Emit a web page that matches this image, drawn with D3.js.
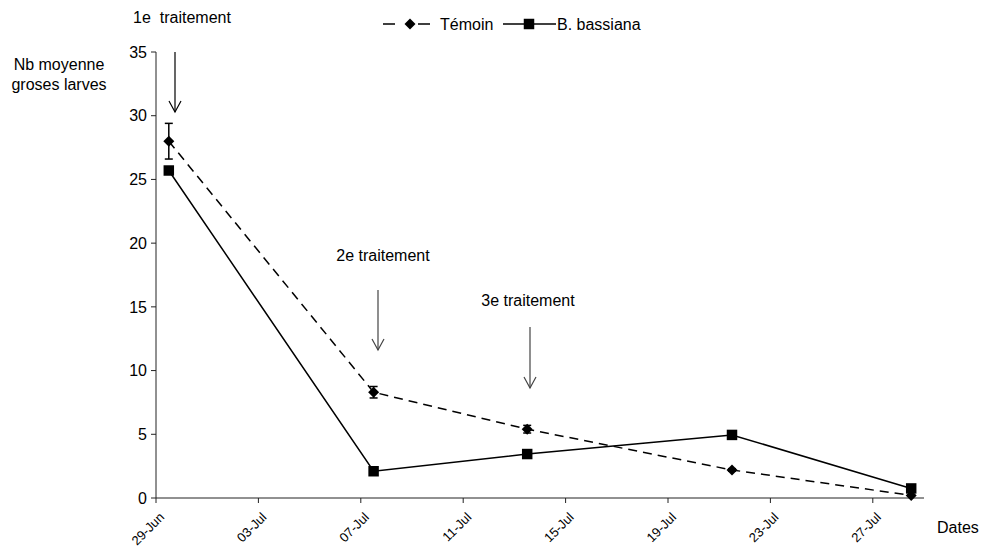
<!DOCTYPE html>
<html>
<head>
<meta charset="utf-8">
<script src="https://cdn.jsdelivr.net/npm/d3@7"></script>
<style>
  html, body { margin: 0; padding: 0; background: #fff; }
  svg { display: block; font-family: "Liberation Sans", Arial, sans-serif; }
</style>
</head>
<body>
<svg id="chart" width="982" height="547"></svg>
<script>
// Sampling dates (each point sits in the middle of its day)
const sampleDates = ["2008-06-29", "2008-07-07", "2008-07-13", "2008-07-21", "2008-07-28"];
// Mean number of large larvae per plant
const temoin      = [28.0, 8.3, 5.4, 2.2, 0.2];
const temoinErr   = [1.4, 0.45, 0.3, 0.1, 0];
const bassiana    = [25.7, 2.1, 3.45, 4.95, 0.75];
// Axis ticks
const xTickDates  = ["2008-06-29", "2008-07-03", "2008-07-07", "2008-07-11",
                     "2008-07-15", "2008-07-19", "2008-07-23", "2008-07-27"];
const yTicks      = [0, 5, 10, 15, 20, 25, 30, 35];
const seriesNames = ["Témoin", "B. bassiana"];
const treatmentLabels = ["1e  traitement", "2e traitement", "3e traitement"];

const parse = d3.utcParse("%Y-%m-%d");
const fmt = d3.utcFormat("%d-%b");
const halfDay = 12 * 3600 * 1000;

const svg = d3.select("#chart");

const x = d3.scaleUtc()
  .domain([parse("2008-06-29"), parse("2008-07-29")])
  .range([156, 924]);
const y = d3.scaleLinear().domain([0, 35]).range([498, 52]);

const mid = d => new Date(parse(d).getTime() + halfDay);

// Axes
const axisColor = "#222";
svg.append("line").attr("x1", x.range()[0]).attr("x2", x.range()[1])
  .attr("y1", y(0)).attr("y2", y(0)).attr("stroke", axisColor).attr("stroke-width", 1);
svg.append("line").attr("x1", x.range()[0]).attr("x2", x.range()[0])
  .attr("y1", y(0)).attr("y2", y(35)).attr("stroke", axisColor).attr("stroke-width", 1);

const yAxis = svg.append("g").selectAll("g").data(yTicks).join("g");
yAxis.append("line")
  .attr("x1", x.range()[0] - 5).attr("x2", x.range()[0])
  .attr("y1", d => y(d)).attr("y2", d => y(d))
  .attr("stroke", axisColor);
yAxis.append("text")
  .attr("x", x.range()[0] - 9).attr("y", d => y(d)).attr("dy", "0.36em")
  .attr("text-anchor", "end").attr("font-size", 16).attr("fill", "#000")
  .text(d => d);

const xAxis = svg.append("g").selectAll("g").data(xTickDates.map(parse)).join("g");
xAxis.append("line")
  .attr("x1", d => x(d)).attr("x2", d => x(d))
  .attr("y1", y(0)).attr("y2", y(0) + 5)
  .attr("stroke", axisColor);
xAxis.append("text")
  .attr("transform", d => `translate(${x(d) + 9},${y(0) + 20}) rotate(-45)`)
  .attr("text-anchor", "end").attr("font-size", 13).attr("fill", "#000")
  .text(d => fmt(d));

// Axis titles
svg.append("text").attr("x", 59).attr("y", 70).attr("text-anchor", "middle")
  .attr("font-size", 16).text("Nb moyenne");
svg.append("text").attr("x", 59).attr("y", 90).attr("text-anchor", "middle")
  .attr("font-size", 16).text("groses larves");
svg.append("text").attr("x", 937).attr("y", 533).attr("font-size", 16).text("Dates");

// Series lines
const pts = (vals) => vals.map((v, i) => [x(mid(sampleDates[i])), y(v)]);
const line = d3.line();

svg.append("path").attr("d", line(pts(temoin)))
  .attr("fill", "none").attr("stroke", "#000").attr("stroke-width", 1.5)
  .attr("stroke-dasharray", "9,6");
svg.append("path").attr("d", line(pts(bassiana)))
  .attr("fill", "none").attr("stroke", "#000").attr("stroke-width", 1.5);

// Error bars on the control series
const eb = svg.append("g").selectAll("g")
  .data(temoin.map((v, i) => ({ v, e: temoinErr[i], d: mid(sampleDates[i]) })).filter(o => o.e > 0))
  .join("g").attr("stroke", "#000").attr("stroke-width", 1.5);
eb.append("line").attr("x1", o => x(o.d)).attr("x2", o => x(o.d))
  .attr("y1", o => y(o.v + o.e)).attr("y2", o => y(o.v - o.e));
eb.append("line").attr("x1", o => x(o.d) - 4).attr("x2", o => x(o.d) + 4)
  .attr("y1", o => y(o.v + o.e)).attr("y2", o => y(o.v + o.e));
eb.append("line").attr("x1", o => x(o.d) - 4).attr("x2", o => x(o.d) + 4)
  .attr("y1", o => y(o.v - o.e)).attr("y2", o => y(o.v - o.e));

// Markers
const diamond = "M0,-5.5L5.5,0L0,5.5L-5.5,0Z";
const square = d3.symbol().type(d3.symbolSquare).size(110);
svg.append("g").selectAll("path").data(pts(temoin)).join("path")
  .attr("transform", p => `translate(${p[0]},${p[1]})`)
  .attr("d", diamond).attr("fill", "#000");
svg.append("g").selectAll("path").data(pts(bassiana)).join("path")
  .attr("transform", p => `translate(${p[0]},${p[1]})`)
  .attr("d", square).attr("fill", "#000");

// Treatment annotations: label and downward arrow
const arrows = [
  { label: treatmentLabels[0], cx: 182, ty: 23, ax: 175, y1: 52, y2: 112, color: "#000" },
  { label: treatmentLabels[1], cx: 383, ty: 261, ax: 378, y1: 290, y2: 350, color: "#444" },
  { label: treatmentLabels[2], cx: 528, ty: 306, ax: 530, y1: 327, y2: 388, color: "#444" }
];
const ann = svg.append("g").selectAll("g").data(arrows).join("g");
ann.append("text").attr("x", a => a.cx).attr("y", a => a.ty)
  .attr("text-anchor", "middle").attr("font-size", 16)
  .style("white-space", "pre").text(a => a.label);
ann.append("line").attr("x1", a => a.ax).attr("x2", a => a.ax)
  .attr("y1", a => a.y1).attr("y2", a => a.y2)
  .attr("stroke", a => a.color).attr("stroke-width", 1.2);
ann.append("path")
  .attr("d", a => `M${a.ax - 6},${a.y2 - 11}L${a.ax},${a.y2}L${a.ax + 6},${a.y2 - 11}`)
  .attr("fill", "none").attr("stroke", a => a.color).attr("stroke-width", 1.2);

// Legend
const lg = svg.append("g");
lg.append("line").attr("x1", 383).attr("x2", 430).attr("y1", 24).attr("y2", 24)
  .attr("stroke", "#000").attr("stroke-width", 1.5).attr("stroke-dasharray", "12,23");
lg.append("path").attr("transform", "translate(410,24)").attr("d", diamond).attr("fill", "#000");
lg.append("text").attr("x", 440).attr("y", 24).attr("dy", "0.36em").attr("font-size", 16).text(seriesNames[0]);
lg.append("line").attr("x1", 503).attr("x2", 556).attr("y1", 24).attr("y2", 24)
  .attr("stroke", "#000").attr("stroke-width", 1.5);
lg.append("path").attr("transform", "translate(529,24)").attr("d", square).attr("fill", "#000");
lg.append("text").attr("x", 557).attr("y", 24).attr("dy", "0.36em").attr("font-size", 16).text(seriesNames[1]);
</script>
</body>
</html>
